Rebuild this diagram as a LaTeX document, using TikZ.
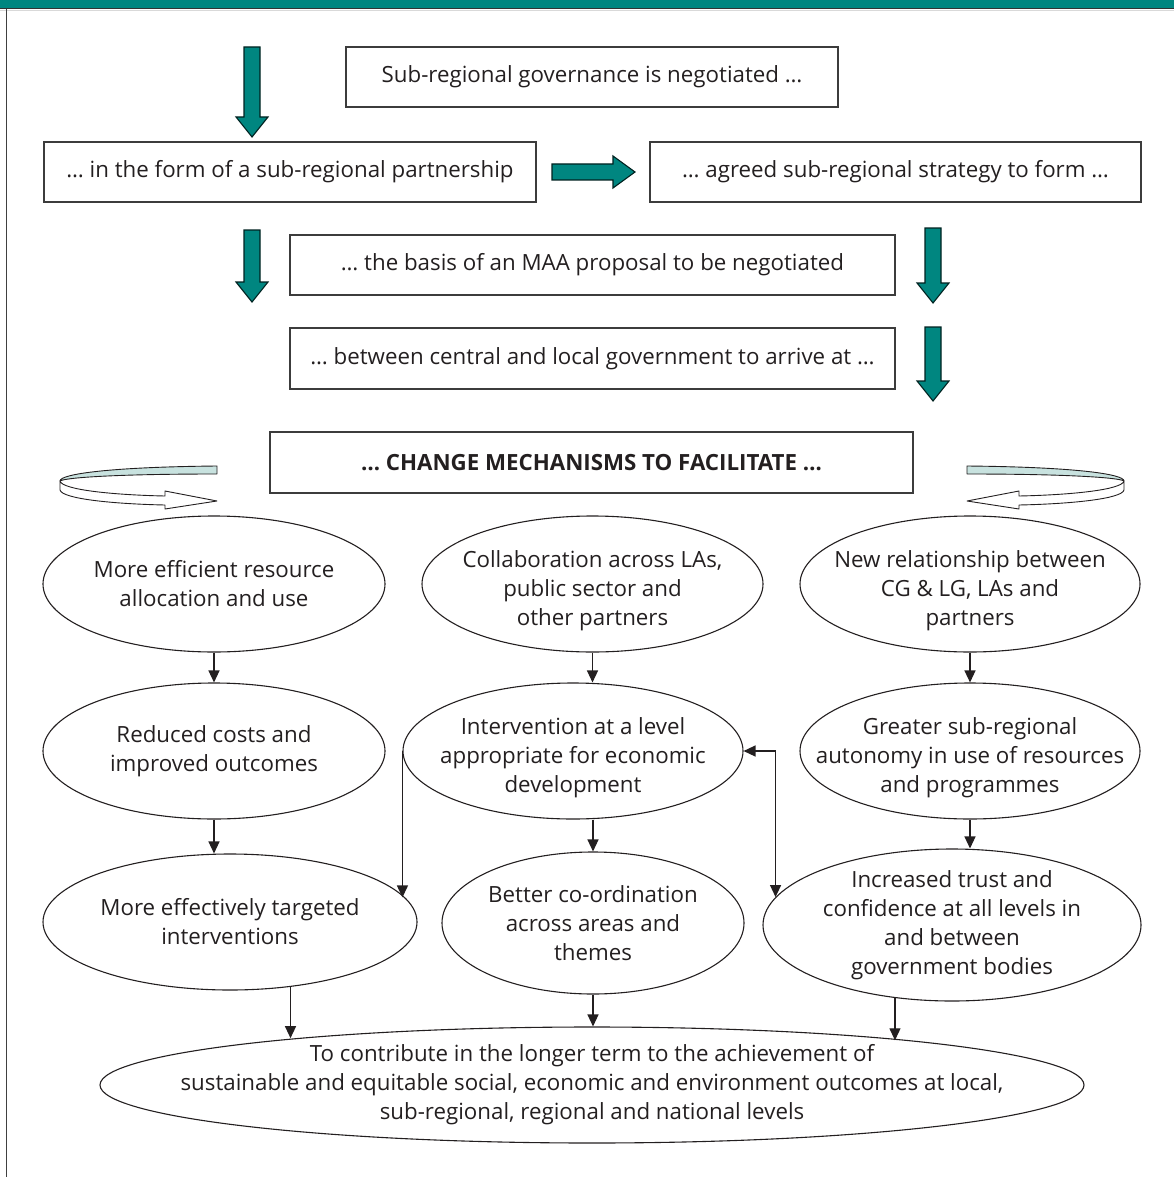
\documentclass[tikz,border=0pt]{standalone}
\usepackage{fontspec}
\setmainfont{Open Sans}
\usetikzlibrary{shapes.geometric,arrows.meta,calc}
\definecolor{teal1}{RGB}{0,134,128}
\definecolor{lteal}{RGB}{200,226,223}
\definecolor{ink}{RGB}{35,31,32}
\definecolor{edgec}{RGB}{60,60,60}
\newcommand\fatdown[3]{\draw[fatarrow] (#1-8,#2) -- (#1+8,#2) -- (#1+8,#3-20) -- (#1+16,#3-20) -- (#1,#3) -- (#1-16,#3-20) -- (#1-8,#3-20) -- cycle;}
\newcommand\myribbon{%
  \draw[ribbonline, fill=lteal] (217,466) .. controls (110,467) and (60,474) .. (60,481)
     .. controls (64,478) and (110,474) .. (217,474) -- cycle;
  \draw[ribbonline, fill=white] (60,481) -- (60,490) .. controls (62,499) and (115,504) .. (165,505)
     -- (165,509) -- (217,501) -- (165,491) -- (165,496)
     .. controls (115,495) and (62,490) .. (60,481) -- cycle;}
\newcommand\dnstrut{\rule{0pt}{31pt}}
\tikzset{
  fatarrow/.style={fill=teal1, draw=black!75!teal1, line width=1.1pt, line join=miter},
  ribbonline/.style={draw=ink, line width=0.9pt, line join=round},
  box/.style={draw=edgec, line width=1.2pt, minimum height=60pt, inner sep=0pt, text=ink},
  oval/.style={ellipse, draw=ink, line width=1.1pt, inner sep=-40pt, align=center, text=ink},
  arr/.style={-{Triangle[length=12pt,width=11pt]}, line width=1.3pt, draw=ink},
  arrtwo/.style={{Triangle[length=12pt,width=11pt]}-{Triangle[length=12pt,width=11pt]}, line width=1.3pt, draw=ink},
}
\begin{document}
\begin{tikzpicture}[x=1pt, y=-1pt, font=\fontsize{22.3}{29}\selectfont]
\useasboundingbox (0,0) rectangle (1174,1177);
% frame
\fill[teal1] (0,0) rectangle (1174,8);
\draw[line width=1.5pt, black!80] (0,8.5) -- (1174,8.5);
\draw[line width=1pt, black!15] (0,10.2) -- (1174,10.2);
\draw[line width=1.4pt, black!75] (6.5,9) -- (6.5,1177);
% boxes
\node[box, minimum width=492pt] (B1) at (592,77) {Sub-regional governance is negotiated …};
\node[box, minimum width=492pt] (B2) at (290,172) {… in the form of a sub-regional partnership};
\node[box, minimum width=491pt] (B3) at (895.5,172) {… agreed sub-regional strategy to form …};
\node[box, minimum width=605pt] (B4) at (592.5,265) {… the basis of an MAA proposal to be negotiated};
\node[box, minimum width=605pt, minimum height=61pt] (B5) at (592.5,358.5) {… between central and local government to arrive at …};
\node[box, minimum width=643pt, minimum height=61pt, font=\fontsize{22.3}{29}\selectfont\bfseries] (B6) at (591.5,462.5) {… CHANGE MECHANISMS TO FACILITATE …};
% fat arrows
\fatdown{252}{47}{137}
\fatdown{252}{230}{302}
\fatdown{933}{228}{303}
\fatdown{933}{327}{401}
\draw[fatarrow] (552,164) -- (613,164) -- (613,156) -- (635,172) -- (613,188) -- (613,180) -- (552,180) -- cycle;
% ribbons
\myribbon
\begin{scope}[shift={(1184,0)}, xscale=-1]
\myribbon
\end{scope}
% ellipses
\node[oval, minimum width=342pt, minimum height=136pt] (E1) at (214,584) {More efficient resource\\allocation and use};
\node[oval, minimum width=341pt, minimum height=136pt] (E2) at (592.5,584) {\dnstrut Collaboration across LAs,\\public sector and\\other partners};
\node[oval, minimum width=340pt, minimum height=136pt] (E3) at (970,584) {\dnstrut New relationship between\\CG \& LG, LAs and\\partners};
\node[oval, minimum width=342pt, minimum height=136pt] (E4) at (214,751) {Reduced costs and\\improved outcomes};
\node[oval, minimum width=340pt, minimum height=136pt] (E5) at (573,751) {\dnstrut Intervention at a level\\appropriate for economic\\development};
\node[oval, minimum width=340pt, minimum height=136pt] (E6) at (970,751) {\dnstrut Greater sub-regional\\autonomy in use of resources\\and programmes};
\node[oval, minimum width=374pt, minimum height=136pt] (E7) at (230,922) {More effectively targeted\\interventions};
\node[oval, minimum width=302pt, minimum height=142pt] (E8) at (593,923) {Better co-ordination\\across areas and\\themes};
\node[oval, minimum width=378pt, minimum height=152pt] (E9) at (952,925) {Increased trust and\\confidence at all levels in\\and between\\government bodies};
\node[oval, inner xsep=-150pt, minimum width=984pt, minimum height=116pt] (E10) at (592,1085) {To contribute in the longer term to the achievement of\\sustainable and equitable social, economic and environment outcomes at local,\\sub-regional, regional and national levels};
% connectors
\draw[arr] (E1.south) -- (E4.north);
\draw[arr] (E2.south) -- (E2.south |- E5.north);
\draw[arr] (E3.south) -- (E6.north);
\draw[arr] (E4.south) -- (E4.south |- E7.north);
\draw[arr] (E8.north |- E5.south) -- (E8.north);
\draw[arr] (E6.south) -- (E6.south |- E9.north);
\draw[arr] (E7.-47.6) -- (E7.-47.6 |- E10.171.4);
\draw[arr] (E8.south) -- (E8.south |- E10.north);
\draw[arr] (E9.-128.7) -- (E9.-128.7 |- E10.8.6);
\draw[arr] (E5.west) -- (E5.west |- E7.8.5);
\draw[arrtwo] (E5.east) -| (E9.171.4);
\end{tikzpicture}
\end{document}
